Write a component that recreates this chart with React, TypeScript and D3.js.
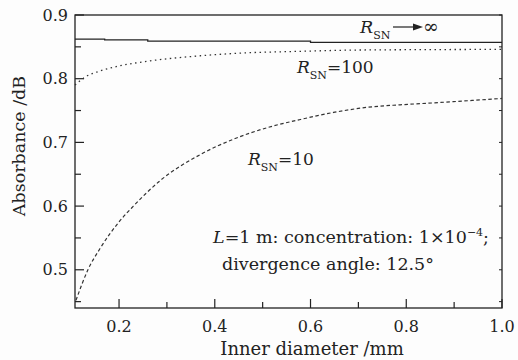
import React from "react";
import * as d3 from "d3";

const xInf = [0.108, 0.17, 0.17, 0.26, 0.26, 0.6, 0.6, 1.0];
const yInf = [0.862, 0.862, 0.861, 0.861, 0.859, 0.859, 0.857, 0.857];

const x100 = [0.108, 0.13, 0.16, 0.2, 0.265, 0.37, 0.45, 0.58, 0.7, 1.0];
const y100 = [0.79, 0.803, 0.812, 0.82, 0.828, 0.836, 0.84, 0.843, 0.845, 0.846];

const x10 = [0.11, 0.135, 0.16, 0.202, 0.23, 0.286, 0.37, 0.439, 0.509, 0.579, 0.648, 0.718, 0.787, 0.857, 1.0];
const y10 = [0.452, 0.5, 0.533, 0.577, 0.6, 0.64, 0.681, 0.705, 0.723, 0.736, 0.747, 0.755, 0.759, 0.762, 0.769];

const xMajor = [0.2, 0.4, 0.6, 0.8, 1.0];
const xMinor = [0.3, 0.5, 0.7, 0.9];
const yMajor = [0.5, 0.6, 0.7, 0.8, 0.9];
const yMinor = [0.45, 0.55, 0.65, 0.75, 0.85];

const W = 518, H = 360;
const L = 75, R = 502, T = 15, B = 308;
const FONT = "'DejaVu Serif', serif";

export default function App() {
  const x = d3.scaleLinear().domain([0.108, 1.0]).range([L, R]);
  const y = d3.scaleLinear().domain([0.44, 0.9]).range([B, T]);
  const line = (xs: number[], ys: number[], curve = true) =>
    d3
      .line<number>()
      .x((_, i) => x(xs[i]))
      .y((_, i) => y(ys[i]))
      .curve(curve ? d3.curveMonotoneX : d3.curveLinear)(xs.map((v) => v)) || "";

  return (
    <svg width={W} height={H} style={{ position: "absolute", left: 0, top: 0, background: "#fdfdfd" }} fontFamily={FONT}>
      <rect x={0} y={0} width={W} height={H} fill="#fdfdfd" />
      {/* frame */}
      <rect x={L} y={T} width={R - L} height={B - T} fill="none" stroke="#222" strokeWidth={1.3} />
      {/* y ticks */}
      {yMajor.map((v) => (
        <g key={"ym" + v}>
          <line x1={L} x2={L + 9} y1={y(v)} y2={y(v)} stroke="#222" strokeWidth={1.2} />
          <line x1={R} x2={R - 3} y1={y(v)} y2={y(v)} stroke="#222" strokeWidth={1} />
          <text x={L - 7} y={y(v)} dy="0.35em" textAnchor="end" fontSize={16} fill="#222">
            {v.toFixed(1)}
          </text>
        </g>
      ))}
      {yMinor.map((v) => (
        <g key={"yn" + v}>
          <line x1={L} x2={L + 6} y1={y(v)} y2={y(v)} stroke="#222" strokeWidth={1.2} />
          <line x1={R} x2={R - 3} y1={y(v)} y2={y(v)} stroke="#222" strokeWidth={1} />
        </g>
      ))}
      {xMajor.map((v) => (
        <g key={"xm" + v}>
          <line x1={x(v)} x2={x(v)} y1={B} y2={B - 9} stroke="#222" strokeWidth={1.2} />
          <text x={x(v)} y={B + 24} textAnchor="middle" fontSize={16} fill="#222">
            {v.toFixed(1)}
          </text>
        </g>
      ))}
      {xMinor.map((v) => (
        <line key={"xn" + v} x1={x(v)} x2={x(v)} y1={B} y2={B - 6} stroke="#222" strokeWidth={1.2} />
      ))}
      {/* curves */}
      <path d={line(xInf, yInf, false)} fill="none" stroke="#222" strokeWidth={1.3} />
      <path d={line(x100, y100)} fill="none" stroke="#333" strokeWidth={1.3} strokeDasharray="1.5,3.5" />
      <path d={line(x10, y10)} fill="none" stroke="#333" strokeWidth={1.2} strokeDasharray="3.5,2.5" />
      {/* labels */}
      <text x={360} y={33} fontSize={17.5} fill="#222">
        <tspan fontStyle="italic">R</tspan>
        <tspan fontSize={11} dy={6}>SN</tspan>
      </text>
      <line x1={393} x2={418} y1={27} y2={27} stroke="#222" strokeWidth={1.2} />
      <path d="M423,27 L413,23.5 L413,30.5 Z" fill="#222" />
      <text x={423} y={33} fontSize={19} fill="#222">∞</text>
      <text x={297} y={73} fontSize={17} fill="#222">
        <tspan fontStyle="italic">R</tspan>
        <tspan fontSize={11} dy={6}>SN</tspan>
        <tspan dy={-6}>=100</tspan>
      </text>
      <text x={248} y={165} fontSize={17} fill="#222">
        <tspan fontStyle="italic">R</tspan>
        <tspan fontSize={11} dy={6}>SN</tspan>
        <tspan dy={-6}>=10</tspan>
      </text>
      <text x={213} y={243} fontSize={17.5} fill="#222">
        <tspan fontStyle="italic">L</tspan>
        <tspan>=1 m: concentration: 1×10</tspan>
        <tspan fontSize={11} dy={-7}>−4</tspan>
        <tspan dy={7}>;</tspan>
      </text>
      <text x={222} y={270} fontSize={17.5} fill="#222">divergence angle: 12.5°</text>
      {/* axis titles */}
      <text x={312} y={355} textAnchor="middle" fontSize={18} fill="#222">
        Inner diameter /mm
      </text>
      <text transform={`translate(25,146) rotate(-90)`} textAnchor="middle" fontSize={17.5} fill="#222">
        Absorbance /dB
      </text>
    </svg>
  );
}
